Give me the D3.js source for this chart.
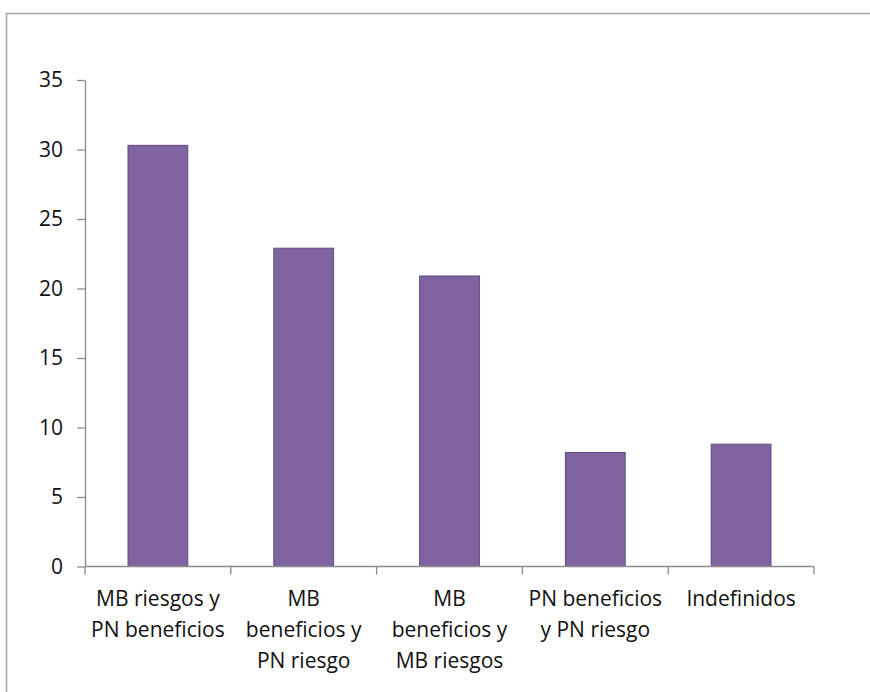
<!DOCTYPE html>
<html><head><meta charset="utf-8">
<script src="https://cdn.jsdelivr.net/npm/d3@7"></script>
<style>body{margin:0;background:#fff}svg{display:block}</style>
</head><body>
<script>
const categories = ["MB riesgos y PN beneficios","MB beneficios y PN riesgo","MB beneficios y MB riesgos","PN beneficios y PN riesgo","Indefinidos"];
const categoryLines = [["MB riesgos y","PN beneficios"],["MB","beneficios y","PN riesgo"],["MB","beneficios y","MB riesgos"],["PN beneficios","y PN riesgo"],["Indefinidos"]];
const values = [30.3, 22.9, 20.9, 8.2, 8.8];
const yTicks = [0,5,10,15,20,25,30,35];

(function(){
const W = 870, H = 692;
const svg = d3.select("body").append("svg").attr("width", W).attr("height", H);
svg.append("rect").attr("x",6.5).attr("y",13.5).attr("width",W).attr("height",H)
  .attr("fill","none").attr("stroke","#a6a6a6").attr("stroke-width",1.6);

const mLeft = 85, mRight = 814, mTop = 80, mBottom = 566.5;
const x = d3.scaleBand().domain(categories).range([mLeft, mRight]).paddingInner(0.59).paddingOuter(0.295);
const y = d3.scaleLinear().domain([0,35]).range([mBottom, mTop]);
const font = "'Open Sans', Lato, sans-serif";
const fs = 21;

// bars
svg.append("g").selectAll("rect").data(values).join("rect")
  .attr("x", (d,i)=>x(categories[i]))
  .attr("y", d=>y(d))
  .attr("width", x.bandwidth())
  .attr("height", d=>y(0)-y(d))
  .attr("fill","#8064a2").attr("stroke","#5f4a7c").attr("stroke-width",1);

// y axis
const ya = svg.append("g").attr("transform",`translate(${mLeft},0)`)
  .call(d3.axisLeft(y).tickValues(yTicks).tickSize(8).tickPadding(14).tickSizeOuter(0));
ya.select(".domain").attr("stroke","#8c8c8c").attr("stroke-width",1.3);
ya.selectAll(".tick line").attr("stroke","#8c8c8c").attr("stroke-width",1.3);
ya.selectAll(".tick text").attr("font-family",font).attr("font-size",fs).attr("fill","#111");

// x axis
const xa = svg.append("g").attr("transform",`translate(0,${mBottom})`);
xa.append("line").attr("x1",mLeft).attr("x2",mRight).attr("stroke","#8c8c8c").attr("stroke-width",1.3);
const gap = (x.step() - x.bandwidth())/2;
const boundaries = categories.map(c => x(c) - gap).concat([mRight]);
xa.selectAll("line.tk").data(boundaries).join("line").attr("class","tk")
  .attr("x1",d=>d).attr("x2",d=>d).attr("y1",0).attr("y2",8)
  .attr("stroke","#8c8c8c").attr("stroke-width",1.3);

const lab = svg.append("g");
categories.forEach((c,i)=>{
  const cx = x(c)+x.bandwidth()/2;
  const t = lab.append("text").attr("x",cx).attr("y",606).attr("text-anchor","middle")
    .attr("font-family",font).attr("font-size",fs).attr("fill","#111");
  categoryLines[i].forEach((ln,j)=>{
    t.append("tspan").attr("x",cx).attr("dy", j===0?0:31).text(ln);
  });
});
})();
</script>
</body></html>
